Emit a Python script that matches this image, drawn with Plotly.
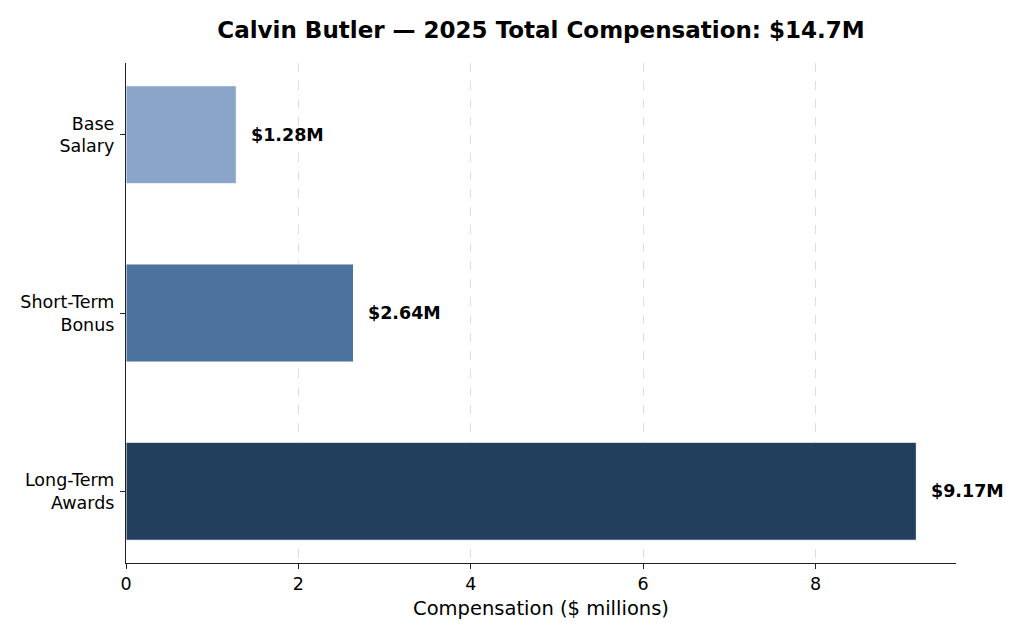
import plotly.graph_objects as go

# comp components, $ millions
categories = ["Base<br>Salary", "Short-Term<br>Bonus", "Long-Term<br>Awards"]
values = [1.28, 2.64, 9.17]
value_labels = ["$1.28M", "$2.64M", "$9.17M"]
colors = ["#8ba5c8", "#4c729e", "#22405e"]
x_ticks = [0, 2, 4, 6, 8]

fig = go.Figure()
fig.add_trace(go.Bar(
    x=values, y=categories, orientation="h", width=0.55,
    marker=dict(color=colors, line=dict(color="white", width=1)),
    hoverinfo="skip",
))

for cat, v, lab in zip(categories, values, value_labels):
    fig.add_annotation(x=v + 0.15, y=cat, text="<b>" + lab + "</b>",
                       xanchor="left", yanchor="middle", showarrow=False,
                       font=dict(size=17.5, color="black"))

# page body has 8px margin, so figure is a bit smaller than the window
fig.update_layout(
    width=1008, height=624,
    margin=dict(l=118, r=60, t=55, b=69),
    paper_bgcolor="white", plot_bgcolor="white",
    font=dict(family="DejaVu Sans", color="black"),
    showlegend=False,
    title=dict(text="<b>Calvin Butler — 2025 Total Compensation: $14.7M</b>",
               xref="paper", x=0.5, xanchor="center", y=0.965, yanchor="middle",
               font=dict(size=23, color="black")),
)
fig.update_xaxes(
    range=[0, 9.63], tickvals=x_ticks, ticks="outside", ticklen=5,
    tickcolor="#222", showline=True, linecolor="#222", linewidth=1.2,
    showgrid=True, gridcolor="#dedede", griddash="dash", gridwidth=1,
    zeroline=False, tickfont=dict(size=17.5),
    title=dict(text="Compensation ($ millions)", font=dict(size=19.5), standoff=8),
)
fig.update_yaxes(
    categoryorder="array", categoryarray=categories,
    range=[2.4025, -0.4025], ticks="outside", ticklen=5, tickcolor="#222",
    showline=True, linecolor="#222", linewidth=1.2, showgrid=False,
    tickfont=dict(size=17.5), ticklabelstandoff=2,
)

fig.write_html("out.html")
